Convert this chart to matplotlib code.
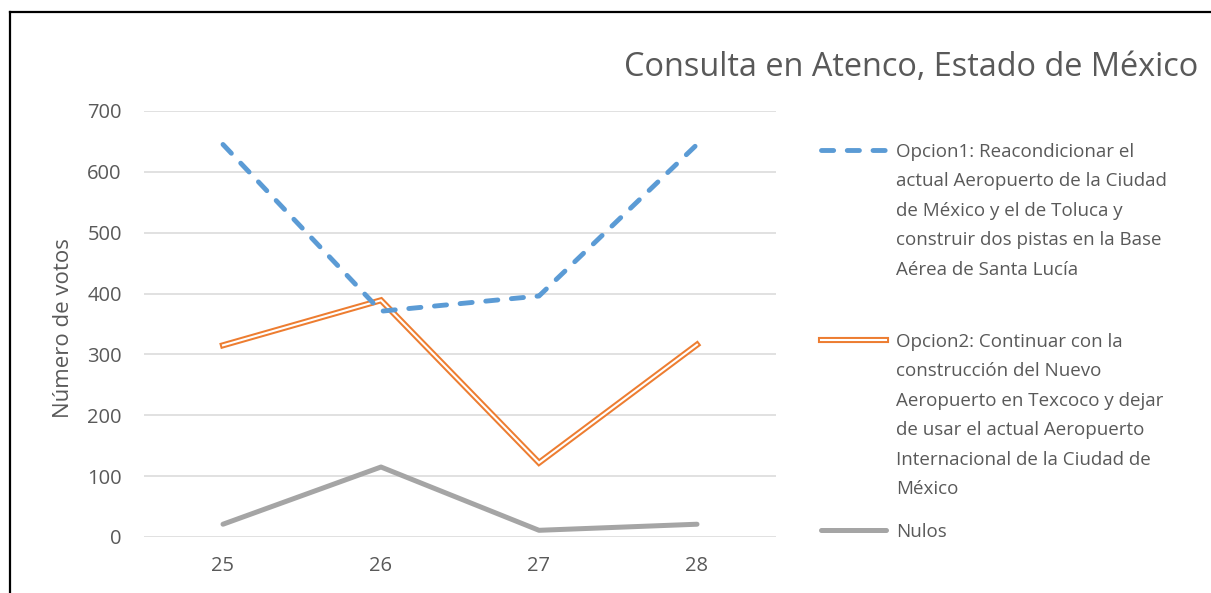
import matplotlib
matplotlib.use("Agg")
import matplotlib.pyplot as plt
import matplotlib.patheffects as pe
from matplotlib.lines import Line2D

# data
dias = ["25", "26", "27", "28"]
opcion1 = [645, 371, 396, 645]
opcion2 = [315, 389, 122, 316]
nulos = [21, 115, 11, 21]

etiquetas = [
    "Opcion1: Reacondicionar el\nactual Aeropuerto de la Ciudad\nde México y el de Toluca y\nconstruir dos pistas en la Base\nAérea de Santa Lucía",
    "Opcion2: Continuar con la\nconstrucción del Nuevo\nAeropuerto en Texcoco y dejar\nde usar el actual Aeropuerto\nInternacional de la Ciudad de\nMéxico",
    "Nulos",
]
titulo = "Consulta en Atenco, Estado de México"
ylabel = "Número de votos"

azul = "#5B9BD5"
naranja = "#ED7D31"
gris = "#A5A5A5"
texto = "#595959"

plt.rcParams['font.family'] = ['Open Sans', 'DejaVu Sans']

W, H = 1211, 593
fig = plt.figure(figsize=(W / 100, H / 100), dpi=100)
ax = fig.add_axes([144 / W, 1 - 537 / H, (776 - 144) / W, (537 - 111) / H])

x = list(range(len(dias)))
ax.plot(x, opcion1, color=azul, lw=3.5, dashes=(2.5, 2.8),
        dash_capstyle='round', solid_capstyle='round', zorder=3)
doble = [pe.Stroke(linewidth=4.4, foreground=naranja), pe.Normal()]
ax.plot(x, opcion2, color="white", lw=1.5, solid_joinstyle='miter',
        path_effects=doble, zorder=2)
ax.plot(x, nulos, color=gris, lw=3.6, solid_capstyle='round', zorder=2)

ax.set_xlim(-0.5, len(dias) - 0.5)
ax.set_ylim(0, 700)
ax.set_yticks(range(0, 701, 100))
ax.set_xticks(x)
ax.set_xticklabels(dias)
ax.grid(axis='y', color="#D9D9D9", lw=1.1)
ax.set_axisbelow(True)
for s in ax.spines.values():
    s.set_visible(False)
ax.tick_params(length=0, labelsize=14.5, labelcolor=texto)
ax.tick_params(axis='y', pad=16)
ax.tick_params(axis='x', pad=14)
ax.set_ylabel(ylabel, fontsize=16, color=texto)
ax.yaxis.set_label_coords(74 / W, 1 - 328 / H, transform=fig.transFigure)

fig.text(1198 / W, 1 - 67 / H, titulo, ha='right', va='center',
         fontsize=23.4, color=texto)

# legend drawn by hand so each handle sits on the first line of its label
estilos = [
    dict(color=azul, lw=3.5, dashes=(2.5, 2.8), dash_capstyle='round'),
    dict(color="white", lw=1.5, path_effects=doble),
    dict(color=gris, lw=3.6, solid_capstyle='round'),
]
primeras = [150, 340, 530]
paso = 29.4
for lab, est, y0 in zip(etiquetas, estilos, primeras):
    fig.add_artist(Line2D([821 / W, 886 / W], [1 - y0 / H] * 2, **est))
    for i, linea in enumerate(lab.split("\n")):
        fig.text(896 / W, 1 - (y0 + i * paso) / H, linea, ha='left',
                 va='center_baseline', fontsize=13.5, color=texto)

# frame of the original screenshot
fig.add_artist(Line2D([10 / W, 1], [1 - 12 / H] * 2, color="black", lw=1.6))
fig.add_artist(Line2D([10 / W] * 2, [1 - 12 / H, 0], color="black", lw=1.6))

fig.savefig("out.png", dpi=100, facecolor="white")
